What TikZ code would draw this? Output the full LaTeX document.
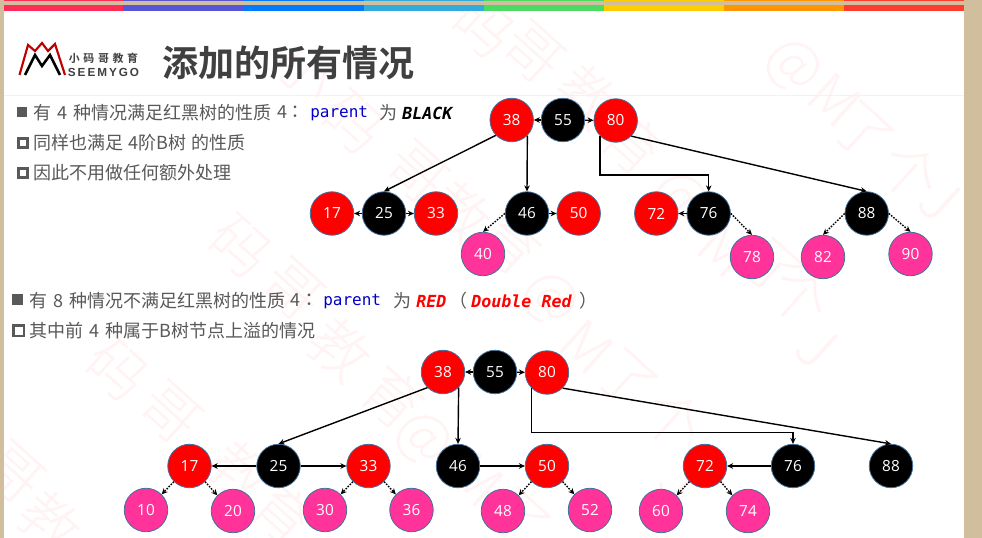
\documentclass[tikz,border=0pt]{standalone}
\usepackage{fontspec}
\setmainfont{Noto Sans CJK SC}
\newfontfamily\cjkb{Noto Sans CJK SC Bold}
\newfontfamily\cjkl{Noto Sans CJK SC Light}
\newfontfamily\tcf{Noto Sans CJK TC}
\newfontfamily\monof{DejaVu Sans Mono}
\newfontfamily\numf{Open Sans}
\newfontfamily\logof{Liberation Sans}
\usetikzlibrary{arrows.meta}
\definecolor{tan}{HTML}{D0BE9C}
\definecolor{txt}{HTML}{595959}
\definecolor{ttl}{HTML}{404040}
\definecolor{pk}{HTML}{FF3399}
\definecolor{edgeb}{HTML}{41719C}
\definecolor{wm}{HTML}{FFF3F3}
\definecolor{kw}{HTML}{0000C8}
\tikzset{
 x=0.75pt,y=-0.75pt,
 nd/.style={circle,draw=edgeb,line width=0.6pt,minimum size=32.6pt,inner sep=0pt,text=white,font=\numf\fontsize{11.5pt}{12pt}\selectfont},
 rd/.style={nd,fill=red},
 bk/.style={nd,fill=black},
 pn/.style={nd,fill=pk},
 ln/.style={-{Stealth[length=4.5pt,width=4.2pt]},line width=1.05pt,black},
 dt/.style={ln,dash pattern=on 1.2pt off 1pt},
 tx/.style={anchor=west,inner sep=0pt,text=txt,font=\fontsize{13.5pt}{15pt}\selectfont},
 cd/.style={anchor=west,inner sep=0pt,font=\monof\fontsize{12pt}{14pt}\selectfont},
 cdi/.style={cd,font=\monof\bfseries\itshape\fontsize{12.5pt}{14pt}\selectfont},
 wmk/.style={text=wm,rotate=-42,inner sep=0pt,font=\cjkl\fontsize{44pt}{46pt}\selectfont},
}
\begin{document}
\begin{tikzpicture}
\useasboundingbox (0,0) rectangle (982,538);
\fill[tan] (0,0) rectangle (982,538);
\fill[white] (4,10.5) rectangle (964,538);
% top bars
\foreach \a/\b/\c in {4/123/FF2D55,123/243/5856D6,243/364/007AFF,364/484/34AADC,484/604/4CD964,604/724/FFCC00,724/844/FF9500,844/964/FF3B30}{
 \definecolor{bc}{HTML}{\c}
 \fill[bc] (\a,5) rectangle (\b,10.7);
 \fill[bc] (\a,0) rectangle (\b,1);
}
% watermark
\begin{scope}
\clip (4,11.5) rectangle (964,538);
\node[wmk] (w1) at (307,70) {小};
\node[wmk] (w2) at (353,123) {码};
\node[wmk] (w3) at (417,173) {哥};
\node[wmk] (w4) at (460,213) {教};
\node[wmk] (w5) at (510,243) {育};
\node[wmk] (w6) at (550,300) {@};
\node[wmk] (w7) at (587,347) {M};
\node[wmk] (w8) at (627,380) {了};
\node[wmk] (w9) at (673,420) {个};
\node[wmk] (w10) at (680,480) {J};
\node[wmk] (w11) at (240,247) {码};
\node[wmk] (w12) at (293,290) {哥};
\node[wmk] (w13) at (340,350) {教};
\node[wmk] (w14) at (393,397) {育};
\node[wmk] (w15) at (423,440) {@};
\node[wmk] (w16) at (477,480) {M};
\node[wmk] (w17) at (520,520) {了};
\node[wmk] (w18) at (117,370) {码};
\node[wmk] (w19) at (170,413) {哥};
\node[wmk] (w20) at (240,473) {教};
\node[wmk] (w21) at (283,513) {育};
\node[wmk] (w22) at (483,27) {码};
\node[wmk] (w23) at (533,53) {哥};
\node[wmk] (w24) at (587,97) {教};
\node[wmk] (w25) at (633,143) {育};
\node[wmk] (w26) at (680,200) {@};
\node[wmk] (w27) at (725,250) {M};
\node[wmk] (w28) at (775,270) {了};
\node[wmk] (w29) at (800,297) {个};
\node[wmk] (w30) at (817,347) {J};
\node[wmk] (w31) at (793,67) {@};
\node[wmk] (w32) at (835,100) {M};
\node[wmk] (w33) at (863,133) {了};
\node[wmk] (w34) at (910,173) {个};
\node[wmk] (w35) at (940,200) {J};
\node[wmk] (w36) at (13,473) {哥};
\node[wmk] (w37) at (50,523) {教};
\end{scope}
\draw[line width=0.5pt,color=black!5] (4,95) -- (964,95);
% logo
\begin{scope}[line join=miter]
\draw[line width=1.6pt,color=red!75!black] (19.5,75) -- (28,45) -- (35,51) -- (42,43) -- (48,51) -- (55,44) -- (65,75);
\draw[line width=1.9pt,color=black] (25,75) -- (35,55) -- (42,66) -- (50,55) -- (60,75);
\end{scope}
\node[inner sep=0pt,text=ttl,font=\cjkb\fontsize{8.2pt}{9pt}\selectfont] (lg1) at (103.5,58) {小\,\,码\,\,哥\,\,教\,\,育};
\node[inner sep=0pt,text=ttl,font=\logof\bfseries\fontsize{8.8pt}{9pt}\selectfont] (lg2) at (103.5,72.5) {S\,E\,E\,M\,Y\,G\,O};
% title
\node[anchor=west,inner sep=0pt,text=ttl,font=\cjkb\fontsize{27pt}{30pt}\selectfont] (title) at (162,63) {添加的所有情况};
% text upper
\fill[txt] (17,107) rectangle (27,117);
\draw[txt,line width=1.9pt] (18.3,138.3) rectangle (27.7,147.7);
\draw[txt,line width=1.9pt] (18.3,168.3) rectangle (27.7,177.7);
\node[tx] (a1) at (33,112.5) {有\hspace{1.5pt} 4 \hspace{1.5pt}种情况满足红黑树的性质};
\node[tx] (a1b) at (277,112.5) {4};
\node[tx,font=\tcf\fontsize{13.5pt}{15pt}\selectfont] (a1c) at (286,112.5) {：};
\node[cd,text=kw] (a2) at (310,113.5) {parent};
\node[tx] (a3) at (379,112.5) {为};
\node[cdi] (a4) at (402,113) {BLACK};
\node[tx] (a5) at (33,143) {同样也满足\hspace{1pt} 4阶B树\hspace{1pt} 的性质};
\node[tx] (a6) at (33,173) {因此不用做任何额外处理};
% text lower
\fill[txt] (12,294.5) rectangle (23,305);
\draw[txt,line width=1.9pt] (13.3,325.3) rectangle (24,336);
\node[tx] (b1) at (29,300.5) {有\hspace{1.5pt} 8 \hspace{1.5pt}种情况不满足红黑树的性质};
\node[tx] (b1b) at (290,300.5) {4};
\node[tx,font=\tcf\fontsize{13.5pt}{15pt}\selectfont] (b1c) at (300,300.5) {：};
\node[cd,text=kw] (b2) at (323,301.5) {parent};
\node[tx] (b3) at (393,300.5) {为};
\node[cdi,text=red] (b4) at (416,301) {RED};
\node[tx] (b5) at (449,300.5) {（};
\node[cdi,text=red] (b6) at (471,301) {Double Red};
\node[tx] (b7) at (579,300.5) {）};
\node[tx] (b8) at (29,331) {其中前\hspace{1.5pt} 4 \hspace{1.5pt}种属于B树节点上溢的情况};
% upper tree
\node[rd] (t38) at (511.7,120) {38};
\node[bk] (t55) at (563,120) {55};
\node[rd] (t80) at (615.7,120.5) {80};
\node[rd] (t17) at (332,213.5) {17};
\node[bk] (t25) at (384,213.5) {25};
\node[rd] (t33) at (436,213.5) {33};
\node[bk] (t46) at (527,213.5) {46};
\node[rd] (t50) at (578.7,213.5) {50};
\node[rd] (t72) at (656.3,213.5) {72};
\node[bk] (t76) at (708.7,213.5) {76};
\node[bk] (t88) at (866.7,213.5) {88};
\node[pn] (t40) at (483,254) {40};
\node[pn] (t78) at (752,257) {78};
\node[pn] (t82) at (823,257) {82};
\node[pn] (t90) at (910.5,254) {90};
\coordinate (tb) at (654,175);
\draw[ln] (t55) -- (t38);
\draw[ln] (t55) -- (t80);
\draw[ln] (t38.-136) -- (t25.north);
\draw[ln] (t38.-45) -- (t46.north);
\draw[ln] (t80.-135) |- (tb) -| (t76.north);
\draw[ln] (t80.-45) -- (t88.north);
\draw[ln] (t25) -- (t17);
\draw[ln] (t25) -- (t33);
\draw[ln] (t46) -- (t50);
\draw[ln] (t76) -- (t72);
\draw[dt] (t46.west) -- (t40.north);
\draw[dt] (t76.east) -- (t78.north);
\draw[dt] (t88.west) -- (t82.north);
\draw[dt] (t88.east) -- (t90.north);
% lower tree
\node[rd] (u38) at (443,372) {38};
\node[bk] (u55) at (495,372) {55};
\node[rd] (u80) at (547,372.5) {80};
\node[rd] (u17) at (189.5,466) {17};
\node[bk] (u25) at (278.5,466) {25};
\node[rd] (u33) at (368.5,466) {33};
\node[bk] (u46) at (458,466) {46};
\node[rd] (u50) at (547,466) {50};
\node[rd] (u72) at (705,466) {72};
\node[bk] (u76) at (793,466) {76};
\node[bk] (u88) at (891,466) {88};
\node[pn] (u10) at (146,510) {10};
\node[pn] (u20) at (233,511) {20};
\node[pn] (u30) at (325,510) {30};
\node[pn] (u36) at (411.5,510) {36};
\node[pn] (u48) at (503,511) {48};
\node[pn] (u52) at (590,510) {52};
\node[pn] (u60) at (661,511) {60};
\node[pn] (u74) at (748,511) {74};
\coordinate (ub) at (660,432.5);
\draw[ln] (u55) -- (u38);
\draw[ln] (u55) -- (u80);
\draw[ln] (u38.-135) -- (u25.north);
\draw[ln] (u38.-45) -- (u46.north);
\draw[ln] (u80.-135) |- (ub) -| (u76.north);
\draw[ln] (u80.-45) -- (u88.north);
\draw[ln] (u25) -- (u17);
\draw[ln] (u25) -- (u33);
\draw[ln] (u46) -- (u50);
\draw[ln] (u76) -- (u72);
\foreach \p/\l/\r in {17/10/20,33/30/36,50/48/52,72/60/74}{
 \draw[dt] (u\p.-135) -- (u\l.45);
 \draw[dt] (u\p.-45) -- (u\r.135);
}
\end{tikzpicture}
\end{document}
